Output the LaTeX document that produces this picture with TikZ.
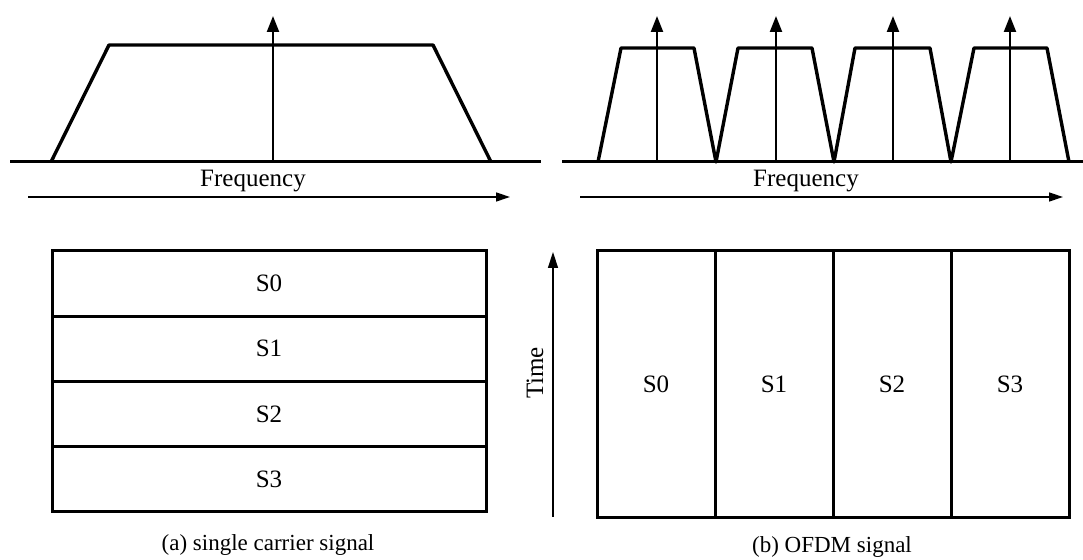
\documentclass[tikz,border=0pt]{standalone}
\usepackage{fontspec}
\setmainfont{Liberation Serif}
\usetikzlibrary{arrows.meta,positioning}

\begin{document}
\begin{tikzpicture}[
    x=0.5pt, y=-0.5pt,
    base/.style={line width=1.5pt},
    spec/.style={line width=1.7pt, line join=round},
    carrier/.style={-{Triangle[length=8pt,width=6pt]}, line width=1.1pt},
    axis/.style={-{Triangle[length=7pt,width=4.5pt]}, line width=0.7pt},
    cell/.style={draw, line width=1.5pt, outer sep=0pt, inner sep=0pt, font=\fontsize{12.5}{15}\selectfont},
    lbl/.style={inner sep=0pt, font=\fontsize{12.5}{15}\selectfont},
    subcap/.style={inner sep=0pt, font=\fontsize{11.5}{14}\selectfont}
]
\useasboundingbox (0,0) rectangle (1083,560);

% (a) single carrier spectrum
\draw[base] (10,162) -- (541,162);
\draw[spec] (51,162) -- (109,45) -- (433,45) -- (491,162);
\coordinate (sc0) at (273,162);
\coordinate (sc1) at (273,16);
\draw[carrier] (sc0) -- (sc1);
\node[lbl] (freqa) at (253,181) {Frequency};
\coordinate (fa0) at (28,197);
\coordinate (fa1) at (510,197);
\draw[axis] (fa0) -- (fa1);

% (b) OFDM spectrum
\draw[base] (562,162) -- (1083,162);
\draw[spec] (598,162) -- (621,48) -- (694,48) -- (716,162) -- (738,48) -- (812,48)
    -- (834,162) -- (855,48) -- (930,48) -- (951,162) -- (974,48) -- (1047,48) -- (1069,162);
\foreach \x/\k in {657/0, 776/1, 893/2, 1010/3} {
    \coordinate (oc\k0) at (\x,162);
    \coordinate (oc\k1) at (\x,16);
    \draw[carrier] (oc\k0) -- (oc\k1);
}
\node[lbl] (freqb) at (806,181) {Frequency};
\coordinate (fb0) at (580,197);
\coordinate (fb1) at (1063,197);
\draw[axis] (fb0) -- (fb1);

% (a) symbols in time
\node[cell, minimum width=217pt, minimum height=32.6pt] (a0) at (269,283.6) {S0};
\node[cell, minimum width=217pt, minimum height=32.6pt, below=0pt of a0] (a1) {S1};
\node[cell, minimum width=217pt, minimum height=32.6pt, below=0pt of a1] (a2) {S2};
\node[cell, minimum width=217pt, minimum height=32.6pt, below=0pt of a2] (a3) {S3};
\node[subcap] (capa) at (268,545) {(a) single carrier signal};

% time axis
\coordinate (t0) at (553,517);
\coordinate (t1) at (553,252);
\draw[axis, -{Triangle[length=8pt,width=5pt]}] (t0) -- (t1);
\node[lbl, rotate=90] (time) at (535,373) {Time};

% (b) symbols over subcarriers
\node[cell, minimum width=59pt, minimum height=133.5pt] (b0) at (656,384.5) {S0};
\node[cell, minimum width=59pt, minimum height=133.5pt, right=0pt of b0] (b1) {S1};
\node[cell, minimum width=59pt, minimum height=133.5pt, right=0pt of b1] (b2) {S2};
\node[cell, minimum width=59pt, minimum height=133.5pt, right=0pt of b2] (b3) {S3};
\node[subcap] (capb) at (832,547) {(b) OFDM signal};
\end{tikzpicture}
\end{document}
